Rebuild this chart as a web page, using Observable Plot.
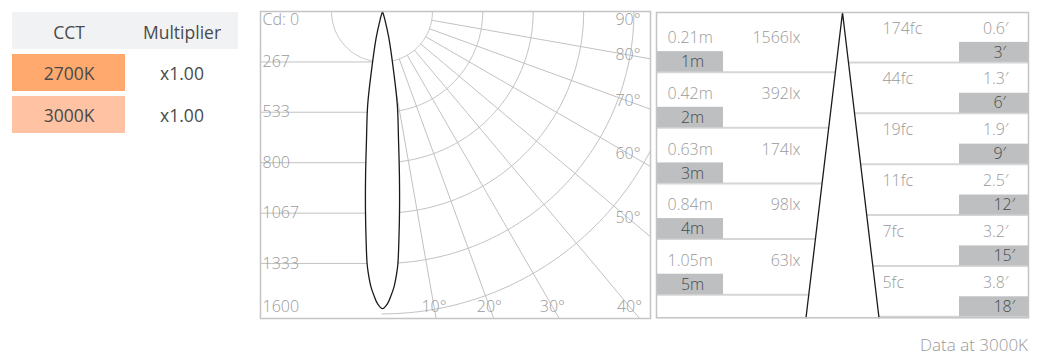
<!DOCTYPE html>
<html><head><meta charset="utf-8">
<script src="https://cdn.jsdelivr.net/npm/d3@7"></script>
<script src="https://cdn.jsdelivr.net/npm/@observablehq/plot@0.6"></script>
<style>
body{margin:0;background:#fff;font-family:"Open Sans",sans-serif;}
#root{position:relative;width:1041px;height:358px;overflow:hidden;}
.panel{position:absolute;}
.panel svg{display:block;overflow:visible;background:transparent;}
#caption{position:absolute;right:13px;top:335px;line-height:20px;font-size:17px;font-weight:300;color:#999;}
</style></head><body><div id="root">
<div id="table" class="panel" style="left:11px;top:11px"></div>
<div id="polar" class="panel" style="left:259px;top:10px"></div>
<div id="cone" class="panel" style="left:655px;top:10.7px"></div>
<div id="caption"></div>
</div>
<script>
// ---------- data ----------
const tableCols = ["CCT", "Multiplier"];
const cct = ["2700K", "3000K"];
const cctColors = ["#ffa96e", "#ffc2a3"];
const multipliers = ["x1.00", "x1.00"];

const cdTicks = [0, 267, 533, 800, 1067, 1333, 1600];
const cdLabels = ["Cd: 0", "267", "533", "800", "1067", "1333", "1600"];
const angleTicks = [10, 20, 30, 40, 50, 60, 70, 80, 90];
const beamAngles = [0, 1.0, 1.6, 2.4, 3.1, 3.5, 4.1, 4.9, 5.9, 7.1, 9.0, 10.5, 13.5, 16, 19, 25];
const beamCd = [1572, 1545, 1511, 1458, 1388, 1336, 1213, 1055, 871, 686, 502, 325, 145, 50, 12, 0];

const meters = [1, 2, 3, 4, 5];
const meterSpread = ["0.21m", "0.42m", "0.63m", "0.84m", "1.05m"];
const lux = [1566, 392, 174, 98, 63];
const feet = [3, 6, 9, 12, 15, 18];
const footcandles = [174, 44, 19, 11, 7, 5];
const feetSpread = [0.6, 1.3, 1.9, 2.5, 3.2, 3.8];
const caption = "Data at 3000K";

// ---------- styles ----------
const FONT = '"Open Sans", sans-serif';
const labelGray = "#9a9a9a";
const gridGray = "#c2c2c2";
const frameGray = "#c4c4c4";
const darkText = "#4a4a4a";

// ---------- table ----------
const tableRows = ["header", ...cct];
const tableCells = [
  ...tableCols.map(c => ({col: c, row: "header", label: c, fill: "#f1f2f4"})),
  ...cct.flatMap((k, i) => [
    {col: "CCT", row: k, label: k, fill: cctColors[i]},
    {col: "Multiplier", row: k, label: multipliers[i], fill: "#ffffff"}
  ])
];
const table = Plot.plot({
  width: 227, height: 122, margin: 0,
  style: {fontFamily: FONT, background: "transparent"},
  x: {type: "band", domain: tableCols, padding: 0, axis: null},
  y: {type: "band", domain: tableRows, paddingInner: 0.13, paddingOuter: 0, axis: null},
  color: {type: "identity"},
  marks: [
    Plot.cell(tableCells, {x: "col", y: "row", fill: "fill"}),
    Plot.text(tableCells.filter(d => d.row === "header"), {x: "col", y: "row", text: "label", fontSize: 17.5, fill: darkText, dy: 2.5}),
    Plot.text(tableCells.filter(d => d.row !== "header"), {x: "col", y: "row", text: "label", fontSize: 17.5, fill: darkText, dy: 1.5})
  ]
});
document.getElementById("table").append(table);

// ---------- polar candela plot ----------
const PW = 390, PH = 307;              // inner frame size (px)
const K = 266.67 / 50.4;               // cd per px
const OX = 121.5;                      // origin offset from left edge (px)
const xDomP = [-OX * K, (PW - OX) * K];
const yDomP = [0, PH * K];
const rad = a => a * Math.PI / 180;

const arcs = [];
cdTicks.slice(1).forEach((r, i) => {
  const a0 = i === 0 ? -90 : 0;
  for (let a = a0; a <= 90; a += 1) arcs.push({r, x: r * Math.sin(rad(a)), y: r * Math.cos(rad(a))});
});
const spokes = angleTicks.map(a => ({
  a,
  x1: cdTicks[1] * Math.sin(rad(a)), y1: cdTicks[1] * Math.cos(rad(a)),
  x2: 5000 * Math.sin(rad(a)), y2: 5000 * Math.cos(rad(a))
}));
const beam = [];
for (let i = beamAngles.length - 1; i > 0; i--) beam.push({a: -beamAngles[i], cd: beamCd[i]});
beamAngles.forEach((a, i) => beam.push({a, cd: beamCd[i]}));
const angleLabels = angleTicks.map(a => {
  if (a <= 45) { const y = 295 * K; return {a, x: y * Math.tan(rad(a)), y}; }
  const x = 246 * K;
  return {a, x, y: Math.max(x / Math.tan(rad(a)), 8 * K)};
});

const polar = Plot.plot({
  width: PW + 2, height: PH + 2, margin: 1,
  style: {fontFamily: FONT, background: "transparent"},
  x: {domain: xDomP, axis: null},
  y: {domain: yDomP, reverse: true, axis: null},
  marks: [
    Plot.ruleY(cdTicks.slice(1, -1), {y: d => d, x1: xDomP[0], x2: 0, stroke: gridGray, strokeWidth: 1}),
    Plot.line(arcs, {x: "x", y: "y", z: "r", stroke: gridGray, strokeWidth: 1, clip: true}),
    Plot.link(spokes, {x1: "x1", y1: "y1", x2: "x2", y2: "y2", stroke: gridGray, strokeWidth: 1, clip: true}),
    Plot.line(beam, {x: d => d.cd * Math.sin(rad(d.a)), y: d => d.cd * Math.cos(rad(d.a)), fill: "white", stroke: "#1a1a1a", strokeWidth: 1.3, curve: "catmull-rom", dx: 0.5}),
    Plot.text(cdTicks.slice(0, 1), {x: xDomP[0], y: d => d, text: (d, i) => cdLabels[0], textAnchor: "start", dx: 2, dy: 8, fontSize: 16, fontWeight: 300, fill: labelGray}),
    Plot.text(cdTicks.slice(1, -1), {x: xDomP[0], y: d => d, text: (d, i) => cdLabels[i + 1], textAnchor: "start", dx: 2, fontSize: 16, fontWeight: 300, fill: labelGray}),
    Plot.text(cdTicks.slice(-1), {x: xDomP[0], y: d => d, text: (d, i) => cdLabels[cdLabels.length - 1], textAnchor: "start", dx: 2, dy: -7, fontSize: 16, fontWeight: 300, fill: labelGray}),
    Plot.text(angleLabels, {x: "x", y: "y", text: d => d.a + "°", fontSize: 16, fontWeight: 300, fill: labelGray}),
    Plot.frame({stroke: frameGray, strokeWidth: 1.5})
  ]
});
document.getElementById("polar").append(polar);

// ---------- illuminance cone ----------
const CW = 372, CH = 305.3;
const FT = 3.28084;
const pxPerFt = CH / 18;
const coneHalf = feetSpread[feetSpread.length - 1] / 2;
const xHalf = coneHalf * (CW / 2) / 36.5;
const boxHL = 20.5 / pxPerFt;
const boxHR = 20 / pxPerFt;
const meterRows = meters.map((m, i) => ({m, ft: m * FT, spread: meterSpread[i], lux: lux[i]}));
const feetRows = feet.map((f, i) => ({f, fc: footcandles[i], spread: feetSpread[i]}));
const cone = [
  {x: -coneHalf, y: feet[feet.length - 1]},
  {x: 0, y: 0},
  {x: coneHalf, y: feet[feet.length - 1]}
];
const txt = {fontSize: 16, fontWeight: 300, fill: labelGray};

const conePlot = Plot.plot({
  width: CW + 2, height: CH + 2, margin: 1,
  style: {fontFamily: FONT, background: "transparent"},
  x: {domain: [-xHalf, xHalf], axis: null},
  y: {domain: [0, 18], reverse: true, axis: null},
  marks: [
    Plot.ruleY(meterRows, {y: "ft", x1: -xHalf, x2: 0, stroke: "#d6d6d6", strokeWidth: 2, dy: 4}),
    Plot.ruleY(feetRows, {y: "f", x1: 0, x2: xHalf, stroke: "#d6d6d6", strokeWidth: 2, dy: -1}),
    Plot.line(cone, {x: "x", y: "y", fill: "white", stroke: "#1a1a1a", strokeWidth: 1.3}),
    Plot.rect(meterRows, {y1: d => d.ft - boxHL, y2: "ft", x1: -xHalf, x2: xHalf, insetRight: CW - 67, fill: "#bdbfc1", dy: 4}),
    Plot.rect(feetRows, {y1: d => d.f - boxHR, y2: "f", x1: -xHalf, x2: xHalf, insetLeft: CW - 69, fill: "#bdbfc1", dy: -1}),
    Plot.text(meterRows, {y: "ft", text: "spread", frameAnchor: "left", textAnchor: "start", dx: 11, dy: 4 - 34, ...txt}),
    Plot.text(meterRows, {y: "ft", text: d => d.lux + "lx", frameAnchor: "left", textAnchor: "end", dx: 144, dy: 4 - 34, ...txt}),
    Plot.text(meterRows, {y: "ft", text: d => d.m + "m", frameAnchor: "left", textAnchor: "middle", dx: 36, dy: 4 - 10, fontSize: 16, fontWeight: 300, fill: darkText}),
    Plot.text(feetRows, {y: "f", text: d => d.fc + "fc", frameAnchor: "right", textAnchor: "start", dx: -146, dy: -35, ...txt}),
    Plot.text(feetRows, {y: "f", text: d => d.spread.toFixed(1) + "′", frameAnchor: "right", textAnchor: "end", dx: -20, dy: -35, ...txt}),
    Plot.text(feetRows, {y: "f", text: d => d.f + "′", frameAnchor: "right", textAnchor: "start", dx: -35, dy: -11, fontSize: 16, fontWeight: 300, fill: darkText}),
    Plot.frame({stroke: frameGray, strokeWidth: 1.5})
  ]
});
document.getElementById("cone").append(conePlot);

document.getElementById("caption").textContent = caption;
</script>
</body></html>
